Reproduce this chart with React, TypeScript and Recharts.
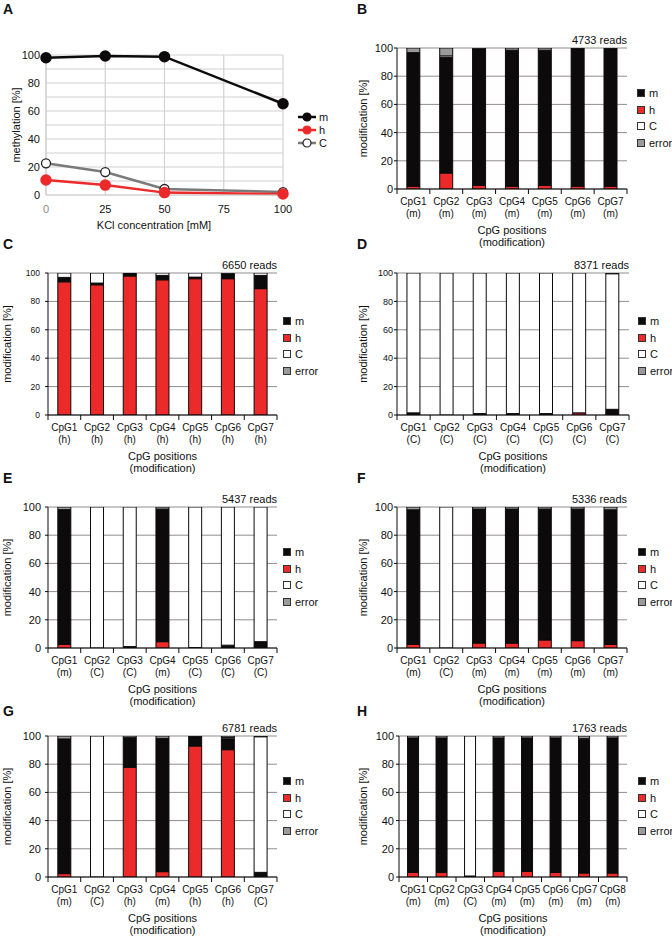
import React from 'react';
import { BarChart, Bar, LineChart, Line, XAxis, YAxis, CartesianGrid, Legend } from 'recharts';

const FONT = '"Liberation Sans", Arial, Helvetica, sans-serif';
const RED = '#ed2a2a';
const BLACK = '#0c0a0a';
const GREY = '#9a9a9a';

// A: methylation vs KCl concentration
const kclConc = [0, 25, 50, 100];
const kclTicks = [0, 25, 50, 75, 100];
const aM = [98, 99.3, 98.8, 65.2];
const aH = [10.7, 7.1, 1.7, 0.7];
const aC = [22.6, 16.4, 4.3, 2.1];

const pctTicks = [0, 20, 40, 60, 80, 100];
const pctGrid = [0, 10, 20, 30, 40, 50, 60, 70, 80, 90, 100];

const cpg7 = ['CpG1', 'CpG2', 'CpG3', 'CpG4', 'CpG5', 'CpG6', 'CpG7'];
const cpg8 = ['CpG1', 'CpG2', 'CpG3', 'CpG4', 'CpG5', 'CpG6', 'CpG7', 'CpG8'];

// B
const bMod = ['m', 'm', 'm', 'm', 'm', 'm', 'm'];
const bH = [2, 11.3, 2.6, 2, 2.5, 2, 2];
const bM = [94.7, 81.9, 96.8, 96.4, 95.9, 97.5, 97.5];
const bC = [0, 1.2, 0, 0, 0, 0, 0];
const bErr = [3.3, 5.6, 0.6, 1.6, 1.6, 0.5, 0.5];

// C
const cMod = ['h', 'h', 'h', 'h', 'h', 'h', 'h'];
const cH = [93.8, 91.7, 97.9, 95.2, 96, 96, 89];
const cM = [3.1, 1.2, 2.1, 3.1, 1.1, 3.5, 9.3];
const cC = [3.1, 7.1, 0, 1.7, 2.9, 0.5, 1.7];
const cErr = [0, 0, 0, 0, 0, 0, 0];

// D
const dMod = ['C', 'C', 'C', 'C', 'C', 'C', 'C'];
const dH = [0, 0, 0, 0, 0, 1.5, 0];
const dM = [1.5, 0, 1, 1, 1, 0, 4];
const dC = [98.5, 100, 99, 99, 99, 98.5, 95.5];
const dErr = [0, 0, 0, 0, 0, 0, 0.5];

// E
const eMod = ['m', 'C', 'C', 'm', 'C', 'C', 'C'];
const eH = [2.5, 0, 0, 4.5, 0, 0, 0];
const eM = [95.6, 0, 1, 94, 0.3, 2, 4.5];
const eC = [0, 100, 99, 0, 99.7, 98, 95.5];
const eErr = [1.9, 0, 0, 1.5, 0, 0, 0];

// F
const fMod = ['m', 'C', 'm', 'm', 'm', 'm', 'm'];
const fH = [2.5, 0, 3.5, 3.5, 5.7, 5.2, 2.5];
const fM = [95.5, 0, 95, 95, 92.8, 93.3, 95.5];
const fC = [0, 100, 0, 0, 0, 0, 0];
const fErr = [2, 0, 1.5, 1.5, 1.5, 1.5, 2];

// G
const gMod = ['m', 'C', 'h', 'm', 'h', 'h', 'C'];
const gH = [2.4, 0, 77.8, 3.8, 92.9, 90.3, 0];
const gM = [95.5, 0, 21, 94.5, 6.6, 7.8, 3.3];
const gC = [0, 100, 0, 0, 0, 1, 96.2];
const gErr = [2.1, 0, 1.2, 1.7, 0.5, 0.9, 0.5];

// H
const hMod = ['m', 'm', 'C', 'm', 'm', 'm', 'm', 'm'];
const hH = [3.3, 3.3, 0, 4, 4, 3.3, 2.8, 2.8];
const hM = [95.3, 95.3, 0.7, 94.6, 94.6, 95.3, 94.8, 95.8];
const hC = [0, 0, 99.3, 0, 0, 0, 0.5, 0];
const hErr = [1.4, 1.4, 0, 1.4, 1.4, 1.4, 1.9, 1.4];

const legendItems = [
  { name: 'm', color: BLACK },
  { name: 'h', color: RED },
  { name: 'C', color: '#ffffff' },
  { name: 'error', color: GREY },
];

const Letter = ({ ch, x, y }: { ch: string; x: number; y: number }) => (
  <div style={{ position: 'absolute', left: x, top: y, fontSize: 14, lineHeight: '14px', fontWeight: 'bold' }}>{ch}</div>
);

function PanelA() {
  const data = kclConc.map((k, i) => ({ kcl: k, m: aM[i], h: aH[i], c: aC[i] }));
  const lineLegend = [
    { name: 'm', stroke: BLACK, fill: BLACK },
    { name: 'h', stroke: RED, fill: RED },
    { name: 'C', stroke: '#7a7a7a', fill: '#fff' },
  ];
  return (
    <div style={{ position: 'absolute', left: 0, top: 30 }}>
      <LineChart width={336} height={210} data={data} margin={{ top: 25, right: 53, bottom: 0, left: 16 }}>
        <CartesianGrid
          stroke="#d2d2d2"
          strokeWidth={1.2}
          horizontalCoordinatesGenerator={({ offset }: any) =>
            pctGrid.map((v) => offset.top + offset.height * (1 - v / 100))
          }
        />
        <XAxis
          type="number"
          dataKey="kcl"
          domain={[0, 100]}
          ticks={kclTicks}
          height={45}
          stroke="#cfcfcf"
          tickLine={false}
          tickSize={0}
          tickMargin={9}
          tick={(t: any) => (
            <text x={t.x} y={t.y + 9} textAnchor="middle" fontSize={11} fill={t.payload.value === 0 ? '#888' : '#111'} fontFamily={FONT}>
              {t.payload.value}
            </text>
          )}
          label={{
            content: () => (
              <text x={154} y={199} textAnchor="middle" fontSize={11} fill="#111" fontFamily={FONT}>KCl concentration [mM]</text>
            ),
          }}
        />
        <YAxis
          domain={[0, 100]}
          ticks={pctTicks}
          width={30}
          stroke="#cfcfcf"
          tickLine={false}
          tickSize={0}
          tickMargin={6}
          tick={{ fontSize: 11, fill: '#111', fontFamily: FONT }}
          label={{
            content: () => (
              <text x={16} y={95} transform="rotate(-90 16 95)" textAnchor="middle" dominantBaseline="central" fontSize={11} fill="#111" fontFamily={FONT}>methylation [%]</text>
            ),
          }}
        />
        <Line dataKey="c" stroke="#7a7a7a" strokeWidth={2.5} dot={{ r: 4.5, fill: '#fff', stroke: '#222', strokeWidth: 1.3 }} isAnimationActive={false} />
        <Line dataKey="h" stroke={RED} strokeWidth={2.5} dot={{ r: 4.5, fill: RED, stroke: RED }} isAnimationActive={false} />
        <Line dataKey="m" stroke={BLACK} strokeWidth={2.5} dot={{ r: 4.5, fill: BLACK, stroke: BLACK }} isAnimationActive={false} />
        <Legend
          layout="horizontal"
          align="center"
          verticalAlign="middle"
          wrapperStyle={{ left: 297, top: 80, width: 40, height: 40 }}
          content={() => (
            <div style={{ fontFamily: FONT, fontSize: 11, color: '#111' }}>
              {lineLegend.map((it) => (
                <div key={it.name} style={{ display: 'flex', alignItems: 'center', height: 13 }}>
                  <svg width={21} height={12}>
                    <line x1={1} x2={19} y1={6} y2={6} stroke={it.stroke} strokeWidth={2.5} />
                    <circle cx={10} cy={6} r={4} fill={it.fill} stroke={it.name === 'C' ? '#222' : it.stroke} strokeWidth={1.2} />
                  </svg>
                  <span style={{ marginLeft: 1 }}>{it.name}</span>
                </div>
              ))}
            </div>
          )}
        />
      </LineChart>
    </div>
  );
}

type PanelProps = {
  letter: string;
  letterX: number;
  letterY: number;
  reads: string;
  pos: string[];
  mod: string[];
  h: number[];
  m: number[];
  c: number[];
  err: number[];
  px0: number;
  py0: number;
  px1: number;
  py1: number;
  tickFont: number;
  tickGap: number;
  yLabelGap: number;
  legDx: number;
  legDy: number;
};

function StackPanel(p: PanelProps) {
  const data = p.pos.map((name, i) => ({ pos: name, h: p.h[i], m: p.m[i], c: p.c[i], err: p.err[i] }));
  const L = 48;
  const T = 22;
  const XH = 70;
  const plotW = p.px1 - p.px0;
  const plotH = p.py1 - p.py0;
  const boxLeft = p.px0 - L;
  const boxTop = p.py0 - T;
  const width = Math.min(672 - boxLeft, L + plotW + 60);
  const height = T + plotH + XH;
  const band = plotW / p.pos.length;
  const n = p.pos.length;
  const rowH = 16.5;

  const renderTick = (t: any) => {
    const { x, y, payload, index } = t;
    const half = band / 2;
    return (
      <g>
        <line x1={x - half} x2={x - half} y1={y} y2={y + 5} stroke={BLACK} strokeWidth={1} />
        {index === n - 1 && <line x1={x + half} x2={x + half} y1={y} y2={y + 5} stroke={BLACK} strokeWidth={1} />}
        <text x={x} y={y + 16} textAnchor="middle" fontSize={10} fill="#111" fontFamily={FONT}>{payload.value}</text>
        <text x={x} y={y + 28} textAnchor="middle" fontSize={10} fill="#111" fontFamily={FONT}>({p.mod[index]})</text>
      </g>
    );
  };

  return (
    <>
      <Letter ch={p.letter} x={p.letterX} y={p.letterY} />
      <div
        style={{ position: 'absolute', left: p.px1 - 120, width: 120, top: p.py0 - 13, textAlign: 'right', fontSize: 11, lineHeight: '11px', color: '#111' }}
      >
        {p.reads}
      </div>
      <div style={{ position: 'absolute', left: boxLeft, top: boxTop }}>
        <BarChart width={width} height={height} data={data} margin={{ top: T, right: width - L - plotW, bottom: 0, left: L - 30 }} barCategoryGap="30%">
          <CartesianGrid vertical={false} stroke="#8e8e8e" strokeWidth={1} />
          <XAxis
            dataKey="pos"
            interval={0}
            height={XH}
            stroke={BLACK}
            tickLine={false}
            tickSize={0}
            tickMargin={0}
            tick={renderTick}
            label={{
              content: () => (
                <text x={L + plotW / 2} y={T + plotH + 45} textAnchor="middle" fontSize={11} fill="#111" fontFamily={FONT}>
                  <tspan x={L + plotW / 2}>CpG positions</tspan>
                  <tspan x={L + plotW / 2} dy={12}>(modification)</tspan>
                </text>
              ),
            }}
          />
          <YAxis
            domain={[0, 100]}
            allowDataOverflow
            ticks={pctTicks}
            width={30}
            stroke={BLACK}
            tickSize={3}
            tickMargin={p.tickGap}
            tick={{ fontSize: p.tickFont, fill: '#111', fontFamily: FONT }}
            label={{
              content: () => {
                const lx = L - p.yLabelGap;
                const ly = T + plotH / 2;
                return (
                  <text x={lx} y={ly} transform={`rotate(-90 ${lx} ${ly})`} textAnchor="middle" dominantBaseline="central" fontSize={11} fill="#111" fontFamily={FONT}>
                    modification [%]
                  </text>
                );
              },
            }}
          />
          <Bar dataKey="h" stackId="s" fill={RED} stroke={BLACK} strokeWidth={1} isAnimationActive={false} />
          <Bar dataKey="m" stackId="s" fill={BLACK} stroke={BLACK} strokeWidth={1} isAnimationActive={false} />
          <Bar dataKey="c" stackId="s" fill="#ffffff" stroke={BLACK} strokeWidth={1} isAnimationActive={false} />
          <Bar dataKey="err" stackId="s" fill={GREY} stroke={BLACK} strokeWidth={1} isAnimationActive={false} />
          <Legend
            layout="horizontal"
            align="center"
            verticalAlign="middle"
            wrapperStyle={{ left: L + plotW + p.legDx, top: T + p.legDy - rowH / 2, width: 50, height: rowH * 4 }}
            content={() => (
              <div style={{ fontFamily: FONT, fontSize: 11, color: '#111' }}>
                {legendItems.map((it) => (
                  <div key={it.name} style={{ display: 'flex', alignItems: 'center', height: rowH }}>
                    <span style={{ display: 'inline-block', width: 8, height: 8, background: it.color, border: '1px solid #333', boxSizing: 'border-box' }} />
                    <span style={{ marginLeft: 4 }}>{it.name}</span>
                  </div>
                ))}
              </div>
            )}
          />
        </BarChart>
      </div>
    </>
  );
}

export default function App() {
  return (
    <div style={{ position: 'absolute', left: 0, top: 0, width: 672, height: 939, overflow: 'hidden', background: '#fff', fontFamily: FONT, color: '#111' }}>
      <Letter ch="A" x={3} y={2} />
      <PanelA />
      <StackPanel letter="B" letterX={357} letterY={2} reads="4733 reads" pos={cpg7} mod={bMod} h={bH} m={bM} c={bC} err={bErr}
        px0={397} py0={48} px1={627} py1={189} tickFont={11} tickGap={1} yLabelGap={34} legDx={10} legDy={45} />
      <StackPanel letter="C" letterX={3} letterY={237} reads="6650 reads" pos={cpg7} mod={cMod} h={cH} m={cM} c={cC} err={cErr}
        px0={48} py0={273} px1={277} py1={415} tickFont={8.5} tickGap={5} yLabelGap={41} legDx={6} legDy={48} />
      <StackPanel letter="D" letterX={357} letterY={237} reads="8371 reads" pos={cpg7} mod={dMod} h={dH} m={dM} c={dC} err={dErr}
        px0={397} py0={273} px1={629} py1={415} tickFont={9} tickGap={1} yLabelGap={34} legDx={9} legDy={48} />
      <StackPanel letter="E" letterX={3} letterY={471} reads="5437 reads" pos={cpg7} mod={eMod} h={eH} m={eM} c={eC} err={eErr}
        px0={48} py0={507} px1={277} py1={648} tickFont={11} tickGap={4} yLabelGap={41} legDx={6} legDy={45} />
      <StackPanel letter="F" letterX={357} letterY={471} reads="5336 reads" pos={cpg7} mod={fMod} h={fH} m={fM} c={fC} err={fErr}
        px0={397} py0={507} px1={627} py1={648} tickFont={11} tickGap={1} yLabelGap={34} legDx={11} legDy={45} />
      <StackPanel letter="G" letterX={3} letterY={704} reads="6781 reads" pos={cpg7} mod={gMod} h={gH} m={gM} c={gC} err={gErr}
        px0={48} py0={736} px1={277} py1={877} tickFont={11} tickGap={4} yLabelGap={41} legDx={6} legDy={45} />
      <StackPanel letter="H" letterX={357} letterY={704} reads="1763 reads" pos={cpg8} mod={hMod} h={hH} m={hM} c={hC} err={hErr}
        px0={399} py0={736} px1={627} py1={877} tickFont={11} tickGap={2} yLabelGap={36} legDx={11} legDy={45} />
    </div>
  );
}
